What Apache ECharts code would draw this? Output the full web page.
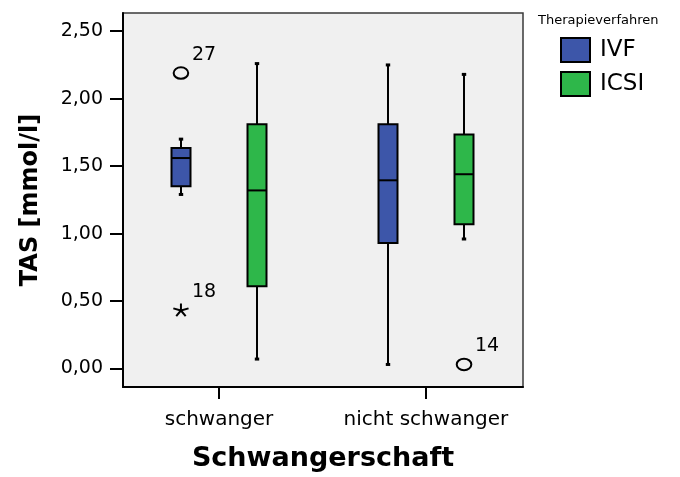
<!DOCTYPE html>
<html>
<head>
<meta charset="utf-8">
<script src="https://cdn.jsdelivr.net/npm/echarts@6/dist/echarts.min.js"></script>
<style>
  html, body { margin: 0; padding: 0; background: #fff; }
  #chart { width: 680px; height: 477px; }
</style>
</head>
<body>
<div id="chart"></div>
<script>
// Pregnancy groups on the x axis and the two therapy groups drawn side by side
const categories = ['schwanger', 'nicht schwanger'];
const groups = ['IVF', 'ICSI'];

// Box statistics per group: [lower whisker, Q1, median, Q3, upper whisker], in category order
const ivfStats = [
  [1.29, 1.35, 1.56, 1.635, 1.70],
  [0.03, 0.93, 1.395, 1.81, 2.25]
];
const icsiStats = [
  [0.07, 0.61, 1.32, 1.81, 2.26],
  [0.96, 1.07, 1.44, 1.735, 2.18]
];

// Outliers: category index, group index, value, case number, marker kind
const outlierCategory = [0, 0, 1];
const outlierGroup = [0, 0, 1];
const outlierValues = [2.19, 0.43, 0.03];
const outlierLabels = ['27', '18', '14'];
const outlierKind = ['circle', 'extreme', 'circle'];

const yTicks = [0, 0.5, 1, 1.5, 2, 2.5];

const colors = ['#3d56a9', '#2eb74a'];
const groupOffset = [-0.184, 0.184];   // x shift (axis units) of each therapy group

function boxData(stats, g) {
  return stats.map((s, i) => [i + 1 + groupOffset[g], s[0], s[1], s[2], s[3], s[4]]);
}

function renderBox(params, api) {
  const xv = api.value(0);
  const p = (v) => api.coord([xv, v]);
  const xc = Math.round(p(api.value(3))[0]);
  const yLow = p(api.value(1))[1];
  const yQ1 = p(api.value(2))[1];
  const yMed = p(api.value(3))[1];
  const yQ3 = p(api.value(4))[1];
  const yHigh = p(api.value(5))[1];
  const hw = 9.5, cap = 2.2;
  const line = { stroke: '#000', lineWidth: 2 };
  return {
    type: 'group',
    children: [
      { type: 'line', shape: { x1: xc, y1: yHigh, x2: xc, y2: yQ3 }, style: line },
      { type: 'line', shape: { x1: xc, y1: yQ1, x2: xc, y2: yLow }, style: line },
      { type: 'line', shape: { x1: xc - cap, y1: yHigh, x2: xc + cap, y2: yHigh }, style: { stroke: '#000', lineWidth: 3 } },
      { type: 'line', shape: { x1: xc - cap, y1: yLow, x2: xc + cap, y2: yLow }, style: { stroke: '#000', lineWidth: 3 } },
      { type: 'rect', shape: { x: xc - hw, y: yQ3, width: hw * 2, height: yQ1 - yQ3 },
        style: { fill: api.visual('color'), stroke: '#000', lineWidth: 2 } },
      { type: 'line', shape: { x1: xc - hw, y1: yMed, x2: xc + hw, y2: yMed }, style: line }
    ]
  };
}

const outlierData = outlierValues.map((v, i) => [
  outlierCategory[i] + 1 + groupOffset[outlierGroup[i]], v, i
]);

function renderOutlier(params, api) {
  const i = api.value(2);
  const c = api.coord([api.value(0), api.value(1)]);
  const children = [];
  if (outlierKind[i] === 'circle') {
    children.push({ type: 'ellipse', shape: { cx: c[0], cy: c[1], rx: 7.3, ry: 5.8 },
      style: { fill: 'none', stroke: '#000', lineWidth: 2 } });
  } else {
    // five-armed asterisk for extreme values
    for (let k = 0; k < 5; k++) {
      const a = -Math.PI / 2 + k * 2 * Math.PI / 5;
      children.push({ type: 'line',
        shape: { x1: c[0], y1: c[1], x2: c[0] + Math.cos(a) * 8, y2: c[1] + Math.sin(a) * 7 },
        style: { stroke: '#000', lineWidth: 2 } });
    }
  }
  children.push({ type: 'text', x: c[0] + 11, y: c[1] - 18,
    style: { text: outlierLabels[i], fill: '#000', fontSize: 19, fontFamily: 'DejaVu Sans',
      align: 'left', verticalAlign: 'middle' } });
  return { type: 'group', children };
}

const chart = echarts.init(document.getElementById('chart'), null, { renderer: 'canvas' });

chart.setOption({
  backgroundColor: '#fff',
  animation: false,
  grid: {
    left: 123, top: 13, width: 400, height: 380,
    show: true, backgroundColor: '#f0f0f0', borderColor: '#3a3a3a', borderWidth: 1.5
  },
  graphic: [{
    type: 'text', left: 538, top: 14,
    style: { text: 'Therapieverfahren', fill: '#000', fontSize: 13, fontFamily: 'DejaVu Sans' }
  }],
  legend: {
    data: groups,
    orient: 'vertical',
    left: 560, top: 37,
    padding: 0,
    itemWidth: 29, itemHeight: 24, itemGap: 8,
    icon: 'rect',
    itemStyle: { borderColor: '#000', borderWidth: 2 },
    textStyle: { fontSize: 23, fontFamily: 'DejaVu Sans', color: '#000', padding: [0, 0, 0, 5] }
  },
  xAxis: {
    type: 'value',
    min: 0.536, max: 2.469,
    name: 'Schwangerschaft',
    nameLocation: 'middle',
    nameGap: 58,
    nameTextStyle: { fontSize: 27, fontWeight: 'bold', fontFamily: 'DejaVu Sans', color: '#000' },
    axisLine: { show: true, onZero: false, lineStyle: { color: '#000', width: 2 } },
    axisTick: { show: true, customValues: [1, 2], length: 12, lineStyle: { color: '#000', width: 2 } },
    axisLabel: {
      customValues: [1, 2], margin: 23,
      formatter: (v) => categories[Math.round(v) - 1],
      fontSize: 20, fontFamily: 'DejaVu Sans', color: '#000'
    },
    splitLine: { show: false }
  },
  yAxis: {
    type: 'value',
    min: -0.137, max: 2.635,
    name: 'TAS [mmol/l]',
    nameLocation: 'middle',
    nameGap: 80,
    nameRotate: 90,
    nameTextStyle: { fontSize: 24, fontWeight: 'bold', fontFamily: 'DejaVu Sans', color: '#000' },
    axisLine: { show: true, onZero: false, lineStyle: { color: '#000', width: 2 } },
    axisTick: { show: true, customValues: yTicks, length: 13, lineStyle: { color: '#000', width: 2 } },
    axisLabel: {
      customValues: yTicks, margin: 20,
      formatter: (v) => v.toFixed(2).replace('.', ','),
      fontSize: 19, fontFamily: 'DejaVu Sans', color: '#000'
    },
    splitLine: { show: false }
  },
  series: [
    { name: 'IVF', type: 'custom', renderItem: renderBox, itemStyle: { color: colors[0] },
      encode: { x: 0, y: [1, 2, 3, 4, 5] }, data: boxData(ivfStats, 0), z: 3 },
    { name: 'ICSI', type: 'custom', renderItem: renderBox, itemStyle: { color: colors[1] },
      encode: { x: 0, y: [1, 2, 3, 4, 5] }, data: boxData(icsiStats, 1), z: 3 },
    { name: 'Ausreißer', type: 'custom', renderItem: renderOutlier,
      encode: { x: 0, y: 1 }, data: outlierData, z: 4 }
  ]
});
</script>
</body>
</html>
